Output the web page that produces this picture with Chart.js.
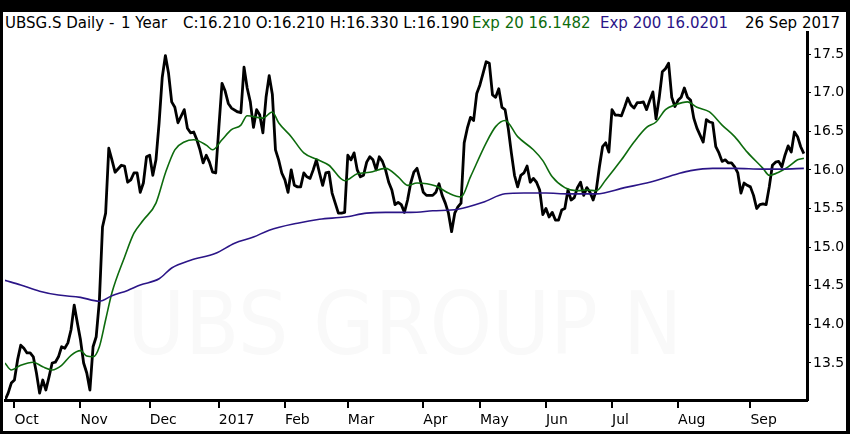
<!DOCTYPE html>
<html>
<head>
<meta charset="utf-8">
<script src="https://cdn.jsdelivr.net/npm/chart.js@4.4.1/dist/chart.umd.min.js"></script>
<style>
  html, body { margin: 0; padding: 0; background: #000; }
  #frame { position: absolute; left: 3px; top: 12px; width: 843px; height: 419px; background: #fff; }
  #wrap { position: absolute; left: 0; top: 0; width: 850px; height: 434px; }
  .hdr { position: absolute; top: 14px; font: 15px "DejaVu Sans", sans-serif; color: #000; white-space: pre; }
  #watermark { position: absolute; left: 127px; top: 272px; font: 88px "DejaVu Sans", sans-serif; color: #f9f9f9;
               white-space: pre; transform: scaleX(0.9); transform-origin: left top; }
  canvas { position: absolute; left: 0; top: 0; }
</style>
</head>
<body>
<div id="frame"></div>
<div id="wrap">
  <div id="watermark">UBS GROUP N</div>
  <span class="hdr" style="left:5px">UBSG.S Daily -</span>
  <span class="hdr" style="left:121px">1 Year</span>
  <span class="hdr" style="left:183px">C:16.210 O:16.210 H:16.330 L:16.190</span>
  <span class="hdr" style="left:472px;color:#0d6b0d">Exp 20 16.1482</span>
  <span class="hdr" style="left:600px;color:#2b1587">Exp 200 16.0201</span>
  <span class="hdr" style="left:745px">26 Sep 2017</span>
  <canvas id="chart" width="850" height="434"></canvas>
</div>
<script>
// month ticks (trading day index where each month starts)
const monthStarts = [3, 24, 46, 68, 89, 109, 133, 151, 172, 193, 214, 237];
const monthLabels = ["Oct", "Nov", "Dec", "2017", "Feb", "Mar", "Apr", "May", "Jun", "Jul", "Aug", "Sep"];
const priceTicks = [13.5, 14.0, 14.5, 15.0, 15.5, 16.0, 16.5, 17.0, 17.5];

// daily close (trading day index / price)
const priceDays = [
  0, 1, 2, 3, 4, 5, 6, 7, 8, 9, 10, 11, 12, 13, 14, 15, 16, 17, 18, 19,
  20, 21, 22, 23, 24, 25, 26, 27, 28, 29, 30, 31, 32, 33, 34, 35, 37, 38, 39, 40,
  41, 42, 43, 44, 45, 46, 47, 48, 49, 50, 51, 52, 53, 54, 55, 57, 58, 59, 60, 61,
  62, 63, 64, 65, 66, 67, 68, 69, 70, 71, 72, 74, 75, 76, 77, 78, 79, 80, 81, 82,
  83, 84, 85, 86, 87, 88, 89, 90, 91, 92, 93, 94, 95, 96, 97, 98, 99, 100, 101, 102,
  103, 104, 105, 106, 107, 108, 109, 110, 111, 112, 113, 114, 115, 116, 117, 118, 119, 120, 121, 122,
  123, 124, 125, 126, 127, 128, 129, 130, 131, 132, 133, 134, 136, 137, 138, 139, 140, 141, 142, 143,
  144, 145, 146, 147, 148, 149, 150, 151, 152, 153, 154, 155, 156, 157, 158, 159, 160, 161, 162, 163,
  164, 165, 166, 167, 168, 169, 170, 171, 172, 173, 174, 175, 176, 177, 178, 179, 180, 181, 182, 183,
  184, 185, 186, 187, 188, 189, 190, 191, 192, 193, 194, 195, 196, 197, 198, 199, 200, 201, 202, 203,
  204, 205, 206, 207, 208, 209, 210, 211, 212, 213, 214, 215, 216, 217, 218, 219, 220, 222, 223, 224,
  225, 226, 227, 228, 229, 230, 231, 232, 233, 234, 235, 236, 237, 238, 239, 240, 241, 242, 243, 244,
  245, 246, 247, 248, 249, 250, 251, 252, 253, 254
];
const priceValues = [
  13.02, 13.11, 13.24, 13.28, 13.54, 13.73, 13.69, 13.63, 13.63, 13.58, 13.37, 13.11, 13.28, 13.15, 13.32, 13.50, 13.51, 13.58, 13.71, 13.69,
  13.76, 13.93, 14.25, 14.02, 13.80, 13.50, 13.37, 13.15, 13.71, 13.84, 14.30, 15.26, 15.44, 16.28, 16.13, 15.97, 16.06, 16.05, 15.84, 15.87,
  15.96, 15.96, 15.71, 15.83, 16.17, 16.19, 15.93, 16.13, 16.61, 17.20, 17.48, 17.25, 16.88, 16.81, 16.61, 16.78, 16.54, 16.48, 16.49, 16.39,
  16.26, 16.09, 16.19, 16.10, 15.97, 15.96, 16.55, 17.12, 17.02, 16.86, 16.80, 16.75, 16.74, 17.33, 17.06, 16.88, 16.55, 16.78, 16.71, 16.48,
  16.94, 17.22, 16.98, 16.26, 16.13, 15.96, 15.87, 15.71, 16.00, 15.80, 15.78, 15.78, 15.96, 15.91, 15.89, 16.00, 16.13, 15.96, 15.80, 15.96,
  15.97, 15.70, 15.57, 15.44, 15.44, 15.45, 16.19, 16.13, 16.22, 16.00, 15.91, 15.93, 16.10, 16.17, 16.13, 16.00, 16.17, 16.11, 16.00, 15.84,
  15.74, 15.55, 15.58, 15.55, 15.45, 15.61, 15.83, 15.97, 16.02, 15.87, 15.71, 15.67, 15.67, 15.71, 15.82, 15.67, 15.57, 15.44, 15.20, 15.44,
  15.52, 15.57, 16.35, 16.54, 16.68, 16.64, 16.99, 17.10, 17.25, 17.40, 17.38, 16.97, 16.94, 17.05, 16.81, 16.78, 16.54, 16.22, 15.93, 15.78,
  15.93, 15.96, 16.05, 15.84, 15.89, 15.84, 15.74, 15.42, 15.50, 15.39, 15.45, 15.35, 15.35, 15.48, 15.50, 15.74, 15.61, 15.64, 15.77, 15.84,
  15.67, 15.77, 15.71, 15.61, 15.74, 16.04, 16.30, 16.35, 16.23, 16.78, 16.71, 16.71, 16.70, 16.81, 16.93, 16.84, 16.80, 16.87, 16.87, 16.88,
  16.78, 16.90, 17.01, 16.66, 16.93, 17.27, 17.31, 17.38, 16.94, 16.82, 16.90, 16.94, 17.06, 16.94, 16.90, 16.67, 16.54, 16.36, 16.65, 16.62,
  16.61, 16.30, 16.22, 16.11, 16.13, 16.09, 16.09, 16.04, 15.96, 15.70, 15.83, 15.80, 15.78, 15.67, 15.50, 15.55, 15.56, 15.55, 15.78, 16.06,
  16.10, 16.11, 16.04, 16.19, 16.31, 16.23, 16.49, 16.43, 16.30, 16.21
];

// exponential moving average 20
const ema20Days = [0, 2, 5, 9, 12, 15, 18, 21, 24, 26, 28, 30, 32, 34, 38, 41, 44, 48, 51, 54,
  57, 60, 64, 66, 69, 72, 75, 77, 82, 85, 87, 91, 95, 99, 103, 108, 112, 116, 121, 125,
  128, 131, 137, 141, 145, 148, 153, 156, 159, 163, 168, 171, 174, 178, 182, 185, 188, 191, 196, 200,
  204, 207, 210, 213, 217, 220, 224, 228, 232, 236, 241, 243, 246, 249, 252, 254];
const ema20Values = [13.50, 13.41, 13.47, 13.51, 13.45, 13.41, 13.47, 13.60, 13.66, 13.59, 13.58, 13.71, 14.06, 14.41, 14.87, 15.18, 15.35, 15.57, 15.96, 16.26,
  16.36, 16.39, 16.32, 16.26, 16.39, 16.52, 16.58, 16.70, 16.67, 16.75, 16.61, 16.43, 16.22, 16.14, 16.06, 15.86, 15.95, 15.97, 16.02, 15.91,
  15.80, 15.83, 15.79, 15.70, 15.65, 15.91, 16.35, 16.56, 16.64, 16.43, 16.26, 16.12, 15.91, 15.77, 15.73, 15.74, 15.73, 15.87, 16.13, 16.36,
  16.55, 16.62, 16.78, 16.84, 16.88, 16.81, 16.75, 16.58, 16.43, 16.23, 16.02, 15.93, 15.97, 16.04, 16.13, 16.15];

// exponential moving average 200
const ema200Days = [0, 5, 11, 17, 24, 30, 34, 39, 43, 49, 53, 59, 67, 73, 79, 84, 93, 100, 108, 115,
  121, 129, 136, 144, 152, 159, 165, 172, 179, 188, 197, 205, 214, 218, 225, 232, 241, 247, 254];
const ema200Values = [14.57, 14.51, 14.43, 14.38, 14.35, 14.30, 14.37, 14.44, 14.51, 14.59, 14.73, 14.83, 14.92, 15.05, 15.13, 15.22, 15.31, 15.36, 15.39, 15.44,
  15.45, 15.45, 15.47, 15.49, 15.58, 15.69, 15.70, 15.70, 15.69, 15.69, 15.77, 15.84, 15.95, 15.99, 16.02, 16.02, 16.01, 16.01, 16.02];

function toPoints(days, values) {
  return days.map((d, i) => ({ x: d, y: values[i] }));
}

const axisFont = { family: "DejaVu Sans", size: 14 };

new Chart(document.getElementById("chart").getContext("2d"), {
  type: "line",
  data: {
    datasets: [
      {
        label: "Exp 200",
        data: toPoints(ema200Days, ema200Values),
        borderColor: "#2b1587",
        borderWidth: 1.6,
        pointRadius: 0,
        tension: 0.4,
        cubicInterpolationMode: "monotone"
      },
      {
        label: "Exp 20",
        data: toPoints(ema20Days, ema20Values),
        borderColor: "#0d6b0d",
        borderWidth: 1.6,
        pointRadius: 0,
        tension: 0.4,
        cubicInterpolationMode: "monotone"
      },
      {
        label: "UBSG.S",
        data: toPoints(priceDays, priceValues),
        borderColor: "#000",
        borderWidth: 2.8,
        pointRadius: 0,
        tension: 0,
        borderJoinStyle: "round"
      }
    ]
  },
  options: {
    responsive: false,
    animation: false,
    layout: { padding: { left: 5, top: 32, right: 0, bottom: 0 } },
    plugins: { legend: { display: false }, tooltip: { enabled: false } },
    scales: {
      x: {
        type: "linear",
        min: 0,
        max: 255,
        afterBuildTicks: s => { s.ticks = monthStarts.map(v => ({ value: v })); },
        afterFit: s => { s.height = 34; },
        grid: { drawOnChartArea: false, drawTicks: true, tickLength: 8, color: "#000", lineWidth: 2 },
        border: { display: true, color: "#000", width: 3 },
        ticks: {
          autoSkip: false,
          maxRotation: 0,
          align: "start",
          padding: 4,
          color: "#000",
          font: axisFont,
          callback: v => monthLabels[monthStarts.indexOf(v)]
        }
      },
      y: {
        type: "linear",
        position: "right",
        min: 13.021,
        max: 17.785,
        afterBuildTicks: s => { s.ticks = priceTicks.map(v => ({ value: v })); },
        afterFit: s => { s.width = 43; },
        grid: { drawOnChartArea: false, drawTicks: true, tickLength: 4, color: "#000", lineWidth: 1 },
        border: { display: true, color: "#000", width: 3 },
        ticks: {
          padding: 2,
          color: "#000",
          font: axisFont,
          callback: v => v.toFixed(1)
        }
      }
    }
  }
});
</script>
</body>
</html>
